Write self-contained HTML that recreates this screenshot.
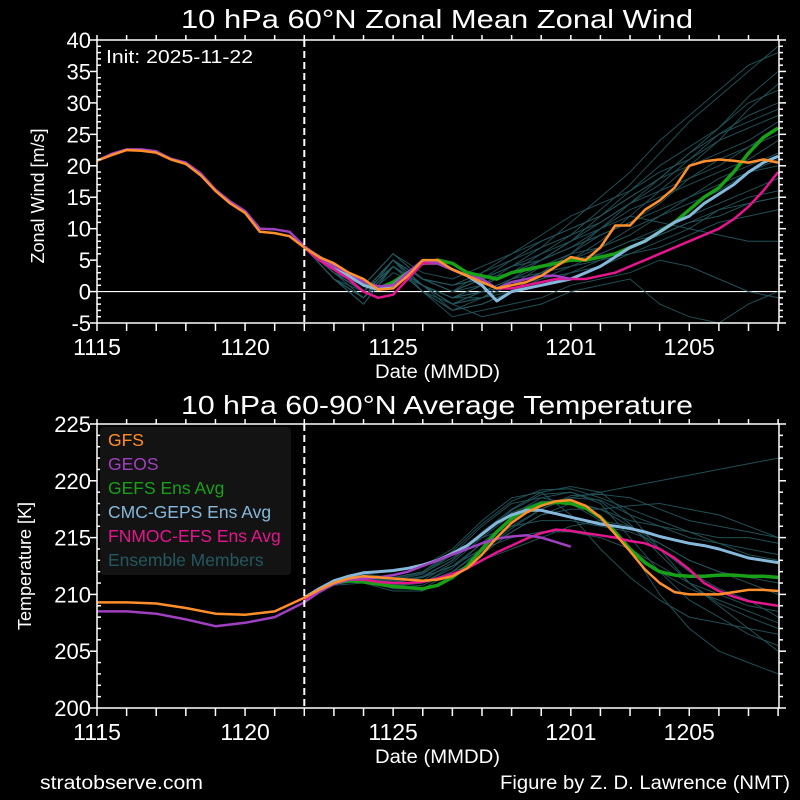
<!DOCTYPE html>
<html><head><meta charset="utf-8">
<style>
html,body{margin:0;padding:0;background:#000;}
svg{display:block;font-family:"Liberation Sans",sans-serif;}
</style></head>
<body>
<svg id="c" width="800" height="800" viewBox="0 0 800 800">
<rect width="800" height="800" fill="#000"/>
<text x="181" y="28" fill="#fff" font-size="26" textLength="512" lengthAdjust="spacingAndGlyphs">10 hPa  60°N   Zonal Mean Zonal Wind</text>
<text x="181" y="414" fill="#fff" font-size="26" textLength="512" lengthAdjust="spacingAndGlyphs">10 hPa  60-90°N Average Temperature</text>
<text x="106" y="63" fill="#fff" font-size="18" textLength="147" lengthAdjust="spacingAndGlyphs">Init: 2025-11-22</text>
<text x="375" y="378" fill="#fff" font-size="19" textLength="125" lengthAdjust="spacingAndGlyphs">Date (MMDD)</text>
<text x="375" y="763" fill="#fff" font-size="19" textLength="125" lengthAdjust="spacingAndGlyphs">Date (MMDD)</text>
<text transform="translate(44,196) rotate(-90)" fill="#fff" font-size="18" text-anchor="middle">Zonal Wind  [m/s]</text>
<text transform="translate(31,566) rotate(-90)" fill="#fff" font-size="18" text-anchor="middle">Temperature  [K]</text>
<text x="40" y="789" fill="#fff" font-size="19" textLength="163" lengthAdjust="spacingAndGlyphs">stratobserve.com</text>
<text x="500" y="789" fill="#fff" font-size="19" textLength="290" lengthAdjust="spacingAndGlyphs">Figure by Z. D. Lawrence (NMT)</text>
<g id="top"></g>
<g id="bot"></g>
</svg>
<script>
// ---- shared x data ----
const xTickLabels = ["1115","1120","1125","1201","1205"];
const xTickDays = [0,5,10,16,20];
const initDay = 7;
// ---- wind data ----
const windTicks = [40,35,30,25,20,15,10,5,0,-5];
const gfsWindHist = [20.8,21.7,22.5,22.4,22.1,21,20.3,18.5,16,14,12.5,9.5,9.3,8.8,7];
const geosWindHist = [20.8,21.9,22.6,22.6,22.3,21.1,20.5,18.8,16.2,14.3,12.8,10,9.9,9.5,7.2];
const gfsWind = [7,5.5,4.5,3,2,0.3,0.5,2.5,5,5,3.5,2.5,1.5,0.5,1,1.5,2.5,4,5.5,5,7,10.5,10.5,13,14.5,16.5,20,20.7,21,20.8,20.5,21,20.5];
const geosWind = [7.2,5.5,4,3,1.5,0.8,1,3,5,4.5,3.5,2.5,2,0.5,1.5,2,2.5,2.5,2];
const gefsWind = [7,5.5,4,2.5,1.5,0.5,1.5,3,4.5,5,4.5,3,2.5,2,3,3.5,4,4.5,5,5,5.5,6,7,8,9.5,11,13,15,16.5,19,22,24.5,26];
const cmcWind = [7,5.5,4,2.5,1,0.3,1,3,4.5,4.5,3.5,2.5,1,-1.5,0,0.5,1,1.5,2,3,4,5.5,7,8,9.5,11,12,14,15.5,17,19,20.5,21.5];
const fnmocWind = [7,5,3.5,2,0,-1,-0.5,2,4.5,4.5,3.5,2.5,2,0.5,0.5,1,1.5,2,2,2,2.5,3,4,5,6,7,8,9,10,11.5,13.5,16,19];
const windMembers = [
[7,3,0,4,1,-1,1,3,6,9,13,17,22,27,31,35,39],
[7,3,-1,5,0,-3,-2,0,2,4,6,8,10,12,14,16,18],
[7,2,-2,4,1,-2,0,1,3,5,8,12,16,20,24,29,33],
[7,3,0,5,2,0,3,5,7,9,11,14,17,21,25,28,30],
[7,2,-1,4,0,-4,-3,-2,-1,1,2,3,5,4,2,0,-1],
[7,3,1,6,3,2,4,6,8,10,12,15,18,22,25,27,29],
[7,2,-1,4,1,-2,-4,-3,-2,0,1,2,-2,-4,-5,-2,0],
[7,3,0,5,1,-1,1,4,7,11,15,19,24,28,32,36,38],
[7,2,-1,3,1,-3,-1,1,4,6,9,11,13,15,18,20,22],
[7,3,0,5,2,1,2,4,5,7,9,11,14,18,21,23,25],
[7,2,-1,4,0,-2,0,2,3,4,5,6,8,10,13,15,16],
[7,3,0,5,2,0,2,4,6,8,11,14,16,18,20,23,26],
[7,2,-2,4,1,-2,-1,2,5,8,12,16,20,23,26,31,35],
[7,3,1,6,2,0,1,3,5,7,10,12,11,10,9,8,8],
[7,3,0,5,1,-1,0,1,2,3,4,6,7,9,11,12,13],
[7,3,0,5,2,1,3,6,9,12,14,16,19,21,24,26,28],
[7,2,-1,4,1,-1,0,2,4,6,7,9,12,15,17,19,21],
[7,3,0,5,1,-2,-1,0,1,3,5,7,9,11,12,14,15],
[7,2,-1,4,0,-3,-2,0,3,6,10,14,18,22,26,30,32],
[7,3,1,6,2,1,2,3,4,5,6,8,9,11,13,14,15],
[7,2,0,5,1,-1,1,3,5,8,10,13,15,17,19,21,24],
[7,3,0,4,1,-1,-1,1,3,5,7,10,12,14,16,19,20],
[7,2,-1,5,2,0,2,5,8,10,12,15,18,20,22,24,27]
];
// ---- temperature data ----
const tempTicks = [225,220,215,210,205,200];
const gfsTempHist = [209.3,209.3,209.2,208.8,208.3,208.2,208.5,209.7];
const geosTempHist = [208.5,208.5,208.3,207.8,207.2,207.5,208.0,209.3];
const gfsTemp = [209.7,210.4,211.0,211.4,211.6,211.5,211.4,211.3,211.2,211.3,211.6,212.3,213.5,215,216.3,217.2,217.8,218.2,218.3,217.8,216.8,215.3,213.8,212.2,211,210.2,210,210,210,210.2,210.4,210.4,210.3];
const geosTemp = [209.3,210.2,210.9,211.3,211.4,211.5,211.7,212,212.5,213,213.5,214,214.5,214.9,215.1,215.2,215,214.6,214.2];
const gefsTemp = [209.7,210.4,211,211.2,211.1,210.9,210.7,210.6,210.5,210.8,211.5,212.5,214,215.5,216.7,217.5,218,218.1,218,217.6,216.8,215.5,214,212.8,212,211.7,211.6,211.6,211.7,211.7,211.6,211.6,211.5];
const cmcTemp = [209.7,210.5,211.2,211.6,211.9,212.0,212.1,212.3,212.6,213,213.6,214.3,215.3,216.3,217,217.4,217.4,217.1,216.8,216.5,216.2,216,215.8,215.5,215.1,214.8,214.5,214.3,214,213.6,213.2,213,212.8];
const fnmocTemp = [209.5,210.3,211,211.3,211.3,211.1,211,211,211.1,211.4,211.8,212.3,213,213.7,214.3,214.9,215.4,215.7,215.6,215.4,215.2,215,214.7,214.5,214,213.2,212.2,211,210.3,209.8,209.4,209.2,209];
const tempMembers = [
[209.7,211,211.5,211,211.5,213,215.5,217.5,219,219.5,219,217,214,211,209,207,205],
[209.7,211,211.3,210.5,210.5,212,214,216,217.5,218.5,219,219.5,220,220.5,221,221.5,222],
[209.7,211.2,211.8,211.5,212,213.5,215,216,216.5,216.5,216,215.5,214.5,213,212,211,210],
[209.7,210.8,211,210.3,210.3,211.5,213.5,215.5,217,218,217,214,210,207,205,204,203],
[209.7,211,211.5,211.2,211.8,213.5,216,218,218.5,218,217.5,216.5,216,215.5,215,215,214.5],
[209.7,211,211.2,210.8,211,212,213,214,215,216,216.5,216,214,212,210.5,209.5,208],
[209.7,211.3,212,212,212.5,214,216.5,218.5,219,217,214,211.5,209.5,208,207.5,207,206.5],
[209.7,210.9,211.3,210.7,211,212.5,214.5,216.5,218,218.5,218.3,217,216,215,214.5,214,213.5],
[209.7,211,211.6,211.2,211.5,212.5,214,215.5,217,217.5,217.5,217.8,218,217.5,217,216,215],
[209.7,211.1,211.4,210.9,211.2,212.8,215,217,218.5,219,218,215,212,209.5,208,206.5,205.5],
[209.7,211,211.5,211,211.5,212.5,214,215,215.5,215.5,215,214,212.5,211,210,209,208.5],
[209.7,211,211.7,211.4,212,213.8,216.2,218.2,219.2,219.3,218.5,217.5,216.5,215.5,214.5,213.5,213],
[209.7,211,211.4,210.8,211,212.3,214.5,216.8,218,218,216.5,214,212,210.5,209.5,208.5,207.5],
[209.7,211.1,211.6,211.3,211.9,213.2,215.3,217.2,218.2,218.2,217.5,216,214.5,213,212,211.5,211],
[209.7,210.9,211.2,210.6,210.8,212,213.8,215.8,217.5,218.7,218.8,218.5,217.5,216.5,216,215.5,215],
[209.7,211,211.5,211.1,211.6,213,215.2,217.4,218.8,219,218.2,216.2,213.5,211,209.2,208,207]
];

const NS="http://www.w3.org/2000/svg";
const X0=97, X1=779, DMAX=23.03;
function xs(d){return X0+(X1-X0)*d/DMAX;}
function mk(parent,tag,attrs){const e=document.createElementNS(NS,tag);for(const k in attrs)e.setAttribute(k,attrs[k]);parent.appendChild(e);return e;}
function pts(vals,d0,step,ys){return vals.map((v,i)=>xs(d0+i*step).toFixed(1)+","+ys(v).toFixed(1)).join(" ");}

function panel(g,top,bot,vmax,vmin,ticks,minorStep,opts){
  const ys=v=>top+(vmax-v)*(bot-top)/(vmax-vmin);
  const cp="clip"+top;
  const defs=mk(g,"defs",{});const c=mk(defs,"clipPath",{id:cp});mk(c,"rect",{x:X0,y:top,width:X1-X0,height:bot-top});
  const data=mk(g,"g",{"clip-path":"url(#"+cp+")"});
  
  
  if(opts.zero){const z=mk(data,"line",{x1:X0,x2:X1,y1:ys(0),y2:ys(0),stroke:"#fff","stroke-width":1.2});
    
    }
  opts.members.forEach((m,i)=>{const l=mk(data,"polyline",{points:pts(m,initDay,1,ys),fill:"none",stroke:"#24585e","stroke-width":1,opacity:0.9});
    
    });
  const series=[["gefs",opts.gefs,"#18a018",3.5],["cmc",opts.cmc,"#86b8dc",3],["fnmoc",opts.fnmoc,"#e4168e",2.5],["geos",null,"#a040c0",2.5],["gfs",null,"#ff8f2a",2.5]];
  series.forEach(s=>{
    let p;
    if(s[0]==="gfs"||s[0]==="geos"){const hs=opts.histStep;const h=s[0]==="gfs"?opts.gfsHist:opts.geosHist;const f=s[0]==="gfs"?opts.gfs:opts.geos;
      p=pts(h,0,hs,ys)+" "+pts(f.slice(1),initDay+0.5,0.5,ys);}
    else p=pts(s[1],initDay,0.5,ys);
    const l=mk(data,"polyline",{points:p,fill:"none",stroke:s[2],"stroke-width":s[3],"stroke-linejoin":"round"});
    
    
  });
  const dl=mk(g,"line",{x1:xs(initDay),x2:xs(initDay),y1:top,y2:bot,stroke:"#fff","stroke-width":2,"stroke-dasharray":"7,4"});
  
  
  const fr=mk(g,"rect",{x:X0,y:top,width:X1-X0,height:bot-top,fill:"none",stroke:"#fff","stroke-width":1.5});
  
  
  for(let v=vmin;v<=vmax+1e-6;v+=minorStep){const y=ys(v);const major=Math.abs(v%5)<1e-6;
    mk(g,"line",{x1:X0-(major?7:0),x2:X0+(major?0:4),y1:y,y2:y,stroke:"#fff","stroke-width":1.5});
    mk(g,"line",{x1:X1,x2:X1+(major?7:4),y1:y,y2:y,stroke:"#fff","stroke-width":1.5});}
  ticks.forEach(v=>{const t=mk(g,"text",{x:X0-6,y:ys(v)+8,fill:"#fff","font-size":22,"text-anchor":"end"});t.textContent=v;
    
    });
  for(let d=0;d<=23;d++){mk(g,"line",{x1:xs(d),x2:xs(d),y1:bot,y2:bot+8,stroke:"#fff","stroke-width":1.5});
    mk(g,"line",{x1:xs(d),x2:xs(d),y1:top-5,y2:top,stroke:"#fff","stroke-width":1.5});}
  xTickLabels.forEach((lab,i)=>{const t=mk(g,"text",{x:xs(xTickDays[i]),y:bot+32,fill:"#fff","font-size":23,"text-anchor":"middle"});t.textContent=lab;
    
    });
  return ys;
}
panel(document.getElementById("top"),40,323,40,-5,windTicks,1,{zero:true,members:windMembers,gfs:gfsWind,geos:geosWind,gefs:gefsWind,cmc:cmcWind,fnmoc:fnmocWind,gfsHist:gfsWindHist,geosHist:geosWindHist,histStep:0.5});
panel(document.getElementById("bot"),424,708,225,200,tempTicks,1,{zero:false,members:tempMembers,gfs:gfsTemp,geos:geosTemp,gefs:gefsTemp,cmc:cmcTemp,fnmoc:fnmocTemp,gfsHist:gfsTempHist,geosHist:geosTempHist,histStep:1});

// legend
const bot=document.getElementById("bot");
const lg=mk(bot,"g",{});


mk(lg,"rect",{x:100,y:427,width:191,height:148,rx:4,fill:"#141414",opacity:0.95});
const legendNames=["GFS","GEOS","GEFS Ens Avg","CMC-GEPS Ens Avg","FNMOC-EFS Ens Avg","Ensemble Members"];
const legendColors=["#ff8f2a","#a040c0","#18a018","#86b8dc","#e4168e","#24585e"];
legendNames.forEach((n,i)=>{const t=mk(lg,"text",{x:108,y:446+i*24,fill:legendColors[i],"font-size":17.5});t.textContent=n;
  
  });
</script>
</body></html>
